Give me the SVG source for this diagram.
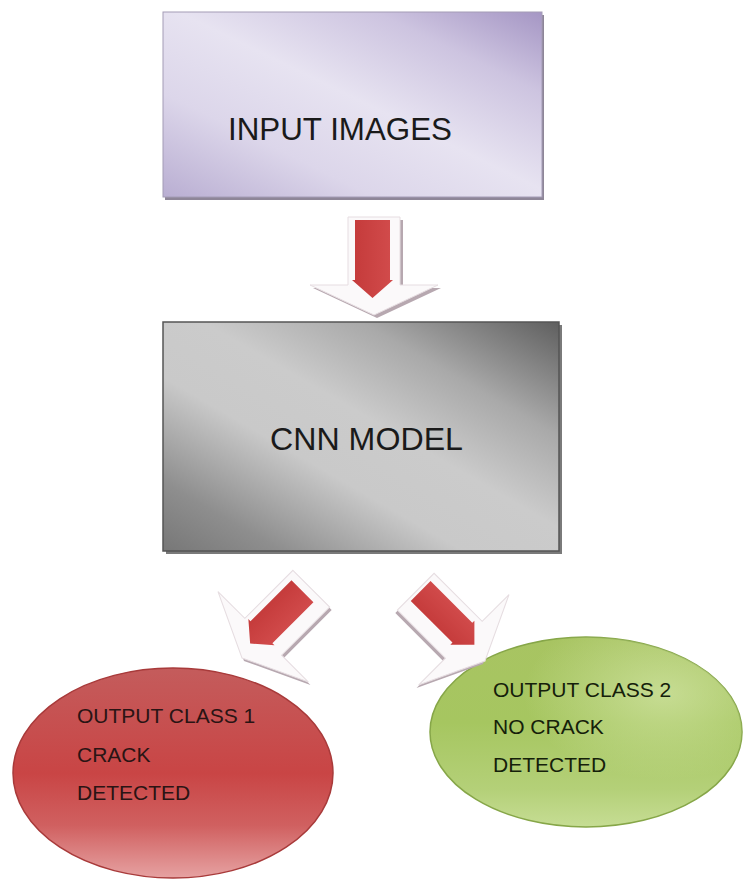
<svg xmlns="http://www.w3.org/2000/svg" xmlns:xlink="http://www.w3.org/1999/xlink" width="743" height="880" viewBox="0 0 743 880">
  <defs>
    <linearGradient id="gPurple" x1="1" y1="0" x2="0" y2="1">
      <stop offset="0" stop-color="#a596c4"/>
      <stop offset="0.22" stop-color="#cdc4e0"/>
      <stop offset="0.48" stop-color="#e7e3f1"/>
      <stop offset="0.72" stop-color="#dcd6ea"/>
      <stop offset="1" stop-color="#b9aed2"/>
    </linearGradient>
    <linearGradient id="gGrey" x1="1" y1="0" x2="0" y2="1">
      <stop offset="0" stop-color="#5f5f5f"/>
      <stop offset="0.25" stop-color="#a9a9a9"/>
      <stop offset="0.45" stop-color="#cbcbcb"/>
      <stop offset="0.62" stop-color="#c9c9c9"/>
      <stop offset="0.85" stop-color="#8e8e8e"/>
      <stop offset="1" stop-color="#777777"/>
    </linearGradient>
    <linearGradient id="gRed" x1="0" y1="0" x2="0" y2="1">
      <stop offset="0" stop-color="#c45c5c"/>
      <stop offset="0.5" stop-color="#c94545"/>
      <stop offset="0.75" stop-color="#d06060"/>
      <stop offset="1" stop-color="#e6a2a2"/>
    </linearGradient>
    <linearGradient id="gGreen" x1="0" y1="0" x2="0" y2="1">
      <stop offset="0" stop-color="#a8c462"/>
      <stop offset="0.45" stop-color="#a6c660"/>
      <stop offset="0.8" stop-color="#b4d078"/>
      <stop offset="1" stop-color="#c6dd94"/>
    </linearGradient>
    <radialGradient id="gGreenHi" cx="0.75" cy="0.3" r="0.45">
      <stop offset="0" stop-color="#d4e6a8" stop-opacity="0.7"/>
      <stop offset="1" stop-color="#d4e6a8" stop-opacity="0"/>
    </radialGradient>
    <linearGradient id="gArrowRed" x1="0" y1="0" x2="1" y2="0">
      <stop offset="0" stop-color="#c43a3a"/>
      <stop offset="1" stop-color="#d24c4c"/>
    </linearGradient>
    <polygon id="arrOuter" points="-26,-98 26,-98 26,-30 64,-30 0,0 -64,-30 -26,-30"/>
    <style>
      .boxText { font-family: "Liberation Sans", Arial, sans-serif; font-size: 31px; fill: #1a1a1a; }
      .ellText { font-family: "Liberation Sans", Arial, sans-serif; font-size: 21px; }
      .arrShadow { fill: #b7a8b0; }
      .arrWhite { fill: #fbf9fa; stroke: #e6dde1; stroke-width: 1; }
      .arrRed { fill: url(#gArrowRed); }
    </style>
  </defs>

  <rect width="743" height="880" fill="#ffffff"/>

  <g id="node-input">
    <rect x="165" y="15" width="379" height="185" fill="#8e8698"/>
    <rect x="163" y="12" width="379" height="185" fill="url(#gPurple)" stroke="#a49cb6" stroke-width="1"/>
    <text class="boxText" x="228" y="140" textLength="224" lengthAdjust="spacingAndGlyphs">INPUT IMAGES</text>
  </g>

  <g id="node-cnn">
    <rect x="166" y="325" width="396" height="229" fill="#7a7a7a"/>
    <rect x="163" y="322" width="396" height="229" fill="url(#gGrey)" stroke="#555555" stroke-width="1.5"/>
    <text class="boxText" x="270" y="450" textLength="193" lengthAdjust="spacingAndGlyphs">CNN MODEL</text>
  </g>

  <g id="node-class1">
    <ellipse cx="173" cy="773" rx="160" ry="105" fill="url(#gRed)" stroke="#a83a3a" stroke-width="1.5"/>
    <text class="ellText" fill="#2a1414" x="77" y="723">OUTPUT CLASS 1</text>
    <text class="ellText" fill="#2a1414" x="77" y="762">CRACK</text>
    <text class="ellText" fill="#2a1414" x="77" y="800">DETECTED</text>
  </g>

  <g id="node-class2">
    <ellipse cx="586" cy="732" rx="156" ry="95" fill="url(#gGreen)" stroke="#86a648" stroke-width="1.5"/>
    <ellipse cx="586" cy="732" rx="156" ry="95" fill="url(#gGreenHi)"/>
    <text class="ellText" fill="#15200a" x="493" y="697">OUTPUT CLASS 2</text>
    <text class="ellText" fill="#15200a" x="493" y="734">NO CRACK</text>
    <text class="ellText" fill="#15200a" x="493" y="772">DETECTED</text>
  </g>

  <g id="connectors">
    <g id="arrow-input-cnn">
      <use xlink:href="#arrOuter" class="arrShadow" transform="translate(377,318)"/>
      <use xlink:href="#arrOuter" class="arrWhite" transform="translate(374,315)"/>
      <polygon class="arrRed" transform="translate(374,315)" points="-19,-95 16,-95 16,-35 19,-35 -1.5,-17 -22,-35 -19,-35"/>
    </g>
    <g id="arrow-cnn-class1">
      <use xlink:href="#arrOuter" class="arrShadow" transform="translate(244,661) rotate(45)"/>
      <use xlink:href="#arrOuter" class="arrWhite" transform="translate(242,658) rotate(45)"/>
      <polygon class="arrRed" transform="translate(242,658) rotate(45)" points="-20,-90 11,-90 11,-32 14,-32 -4.5,-16 -23,-32 -20,-32"/>
    </g>
    <g id="arrow-cnn-class2">
      <use xlink:href="#arrOuter" class="arrShadow" transform="translate(483,664) rotate(-45)"/>
      <use xlink:href="#arrOuter" class="arrWhite" transform="translate(485,661) rotate(-45)"/>
      <polygon class="arrRed" transform="translate(485,661) rotate(-45)" points="-10,-95 18,-95 18,-36 21,-36 4,-19 -13,-36 -10,-36"/>
    </g>
  </g>
</svg>
